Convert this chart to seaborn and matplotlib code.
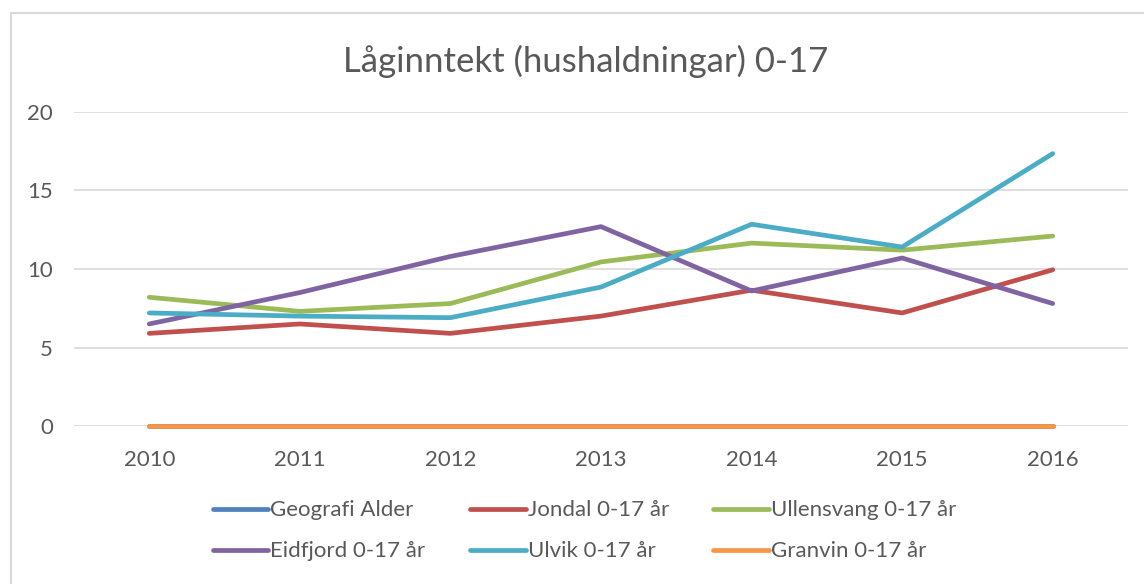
import numpy as np
import pandas as pd
import seaborn as sns
import matplotlib.pyplot as plt
from matplotlib.patches import Rectangle

years = [2010, 2011, 2012, 2013, 2014, 2015, 2016]
geografi = [0, 0, 0, 0, 0, 0, 0]
jondal = [5.9, 6.5, 5.9, 7.0, 8.65, 7.2, 9.95]
ullensvang = [8.2, 7.3, 7.8, 10.45, 11.65, 11.2, 12.1]
eidfjord = [6.5, 8.5, 10.8, 12.7, 8.6, 10.7, 7.8]
ulvik = [7.2, 7.0, 6.9, 8.85, 12.85, 11.4, 17.35]
granvin = [0, 0, 0, 0, 0, 0, 0]

names = ["Geografi Alder", "Jondal 0-17 år", "Ullensvang 0-17 år",
         "Eidfjord 0-17 år", "Ulvik 0-17 år", "Granvin 0-17 år"]
colors = ["#4F81BD", "#C0504D", "#9BBB59", "#8064A2", "#4BACC6", "#F79646"]

rows = []
for name, vals in zip(names, [geografi, jondal, ullensvang, eidfjord, ulvik, granvin]):
    for i, v in enumerate(vals):
        rows.append({"pos": i, "year": years[i], "serie": name, "verdi": v})
df = pd.DataFrame(rows)

sns.set_theme(style="white")
plt.rcParams['font.family'] = ['Lato', 'DejaVu Sans']

fig = plt.figure(figsize=(11.44, 5.84), dpi=100)
fig.patches.append(Rectangle((11 / 1144, -0.1), 1.2, 1.1 - 13 / 584, transform=fig.transFigure,
                             fill=False, edgecolor="#D9D9D9", linewidth=1.5))
ax = fig.add_axes([74 / 1144, 158 / 584, (1128 - 74) / 1144, (426 - 112) / 584])

sns.lineplot(data=df, x="pos", y="verdi", hue="serie", hue_order=names,
             palette=colors, linewidth=3.4, ax=ax, legend=False,
             solid_capstyle="round")
for ln in ax.lines:
    ln.set_clip_on(False)

ax.set_xlim(-0.5, 6.5)
ax.set_ylim(0, 20)
ax.set_yticks([0, 5, 10, 15, 20])
ax.set_xticks(range(len(years)))
ax.set_xticklabels([str(y) for y in years])
ax.yaxis.grid(True, color="#D9D9D9", linewidth=1.2)
ax.set_axisbelow(True)
for s in ax.spines.values():
    s.set_visible(False)
ax.set_xlabel("")
ax.set_ylabel("")
ax.tick_params(axis="both", length=0, labelsize=16, colors="#595959")
ax.tick_params(axis="x", pad=17)
ax.tick_params(axis="y", pad=15)

fig.text(0.512, 0.895, "Låginntekt (hushaldningar) 0-17", ha="center", va="center",
         fontsize=25, color="#595959")

handles = [plt.Line2D([], [], color=c, linewidth=3.4, solid_capstyle="round") for c in colors]
order = [0, 3, 1, 4, 2, 5]
leg = fig.legend([handles[i] for i in order], [names[i] for i in order], ncol=3,
                 loc="center", bbox_to_anchor=(0.511, 0.091), frameon=False,
                 fontsize=16, handlelength=2.5, handletextpad=0.1,
                 columnspacing=2.0, labelspacing=0.95)
for t in leg.get_texts():
    t.set_color("#595959")

fig.savefig("out.png", dpi=100)
